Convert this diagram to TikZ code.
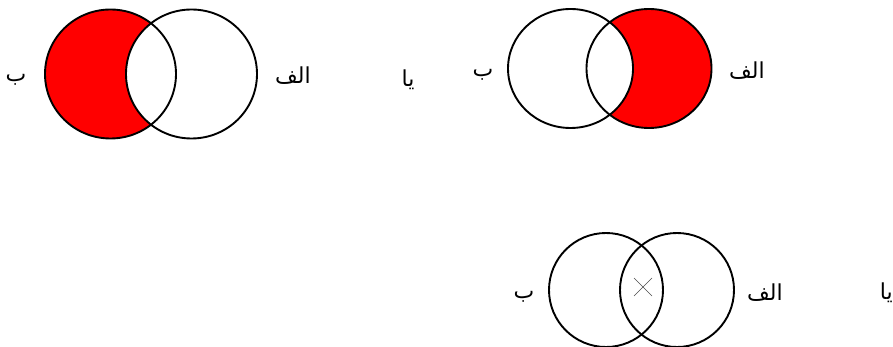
\documentclass[tikz,border=0pt]{standalone}
\usepackage{fontspec}
\newfontfamily\arabicfont[Script=Arabic]{DejaVu Sans}
\TeXXeTstate=1
\tikzset{
  vennset/.style={line width=1.9pt},
  setlabel/.style={font=\arabicfont\fontsize{22}{26}\selectfont, inner sep=0pt},
}
\begin{document}
\begin{tikzpicture}[x=1pt,y=-1pt]
        \useasboundingbox (0,0) rectangle (893,347);
        % shaded
        \begin{scope}
          \clip (110.5,74) ellipse [x radius=65.5, y radius=64.5];
          \fill [red, even odd rule] (110.5,74) ellipse [x radius=65.5, y radius=64.5] (191.5,74) ellipse [x radius=65.5, y radius=64.5];
        \end{scope}
        \begin{scope}
          \clip (649,68.5) ellipse [x radius=62.5, y radius=59.5];
          \fill [red, even odd rule] (649,68.5) ellipse [x radius=62.5, y radius=59.5] (570.5,68.5) ellipse [x radius=62.5, y radius=59.5];
        \end{scope}
        % circles
        \draw [vennset] (110.5,74) ellipse [x radius=65.5, y radius=64.5];
        \draw [vennset] (191.5,74) ellipse [x radius=65.5, y radius=64.5];
        \draw [vennset] (570.5,68.5) ellipse [x radius=62.5, y radius=59.5];
        \draw [vennset] (649,68.5) ellipse [x radius=62.5, y radius=59.5];
        \draw [vennset] (606,290) circle [radius=57];
        \draw [vennset] (677,290) circle [radius=57];
        % cross
        \coordinate (x1) at (634,278);\coordinate (x2) at (652,296);
        \coordinate (x3) at (652,278);\coordinate (x4) at (634,296);
        \draw [black!70, line width=0.5pt] (x1) -- (x2);
        \draw [black!70, line width=0.5pt] (x3) -- (x4);
        % letters
        \node [setlabel] (b1) at (16,80) {\beginR ب\endR};
        \node [setlabel] (a1) at (293,76) {\beginR الف\endR};
        \node [setlabel] (ya1) at (408,80) {\beginR يا\endR};
        \node [setlabel] (b2) at (483,75) {\beginR ب\endR};
        \node [setlabel] (a2) at (747,71) {\beginR الف\endR};
        \node [setlabel] (b3) at (524,297) {\beginR ب\endR};
        \node [setlabel] (a3) at (765,293) {\beginR الف\endR};
        \node [setlabel, anchor=east] (ya3) at (893,293) {\beginR يا\endR};
    \end{tikzpicture}
\end{document}
